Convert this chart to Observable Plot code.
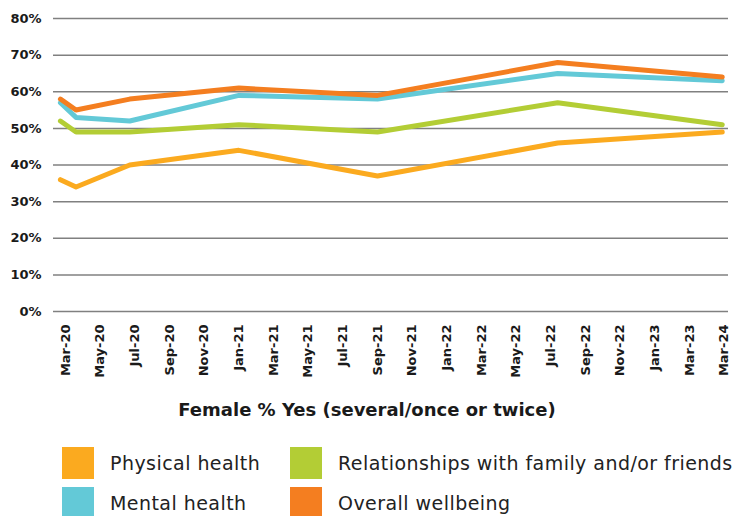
<!DOCTYPE html>
<html>
<head>
<meta charset="utf-8">
<script src="https://cdn.jsdelivr.net/npm/d3@7"></script>
<script src="https://cdn.jsdelivr.net/npm/@observablehq/plot@0.6"></script>
<style>
  html, body { margin: 0; padding: 0; background: #fff; }
  body { width: 734px; height: 516px; overflow: hidden; font-family: "DejaVu Sans", sans-serif; color: #1a1a1a; }
  #chart svg { display: block; }
  #title { text-align: center; font-weight: bold; font-size: 18px; line-height: 20px; padding-top: 15px; box-sizing: border-box; height: 50px; }
  #legend { position: relative; height: 131px; }
  .item { position: absolute; display: flex; align-items: center; font-size: 19px; letter-spacing: 0.45px; color: #222; }
  .sw { width: 32px; height: 32px; margin-right: 16px; flex: none; }
</style>
</head>
<body>
<div id="chart"></div>
<div id="title">Female % Yes (several/once or twice)</div>
<div id="legend"></div>
<script>
// Axis category labels (one slot each, evenly spaced)
const xLabels = ["Mar-20","May-20","Jul-20","Sep-20","Nov-20","Jan-21","Mar-21","May-21","Jul-21","Sep-21",
                 "Nov-21","Jan-22","Mar-22","May-22","Jul-22","Sep-22","Nov-22","Jan-23","Mar-23","Mar-24"];
// Position of each survey wave along the label slots
const wavePos = [-0.15, 0.3, 1.85, 5.0, 9.0, 14.2, 18.95];

const physical      = [36, 34, 40, 44, 37, 46, 49];
const mental        = [57, 53, 52, 59, 58, 65, 63];
const relationships = [52, 49, 49, 51, 49, 57, 51];
const overall       = [58, 55, 58, 61, 59, 68, 64];

const seriesNames  = ["Physical health", "Mental health", "Relationships with family and/or friends", "Overall wellbeing"];
const seriesValues = [physical, mental, relationships, overall];
const seriesColors = ["#FBAA1F", "#63C9D7", "#B3CD35", "#F47E20"];
const yTicks = [0, 10, 20, 30, 40, 50, 60, 70, 80];

const rows = [];
seriesNames.forEach((name, s) => {
  seriesValues[s].forEach((v, i) => rows.push({series: name, pos: wavePos[i], value: v}));
});

const plot = Plot.plot({
  width: 734,
  height: 385,
  marginTop: 18,
  marginBottom: 74,
  marginLeft: 53,
  marginRight: 6,
  style: {fontFamily: "DejaVu Sans, sans-serif", color: "#1a1a1a", background: "#fff"},
  x: {type: "linear", domain: [-0.35, 19.13]},
  y: {domain: [0, 80]},
  color: {domain: seriesNames, range: seriesColors},
  marks: [
    Plot.gridY(yTicks, {stroke: "#808080", strokeOpacity: 1, strokeWidth: 1.5}),
    Plot.axisY({ticks: yTicks, tickSize: 0, tickPadding: 12, tickFormat: d => d + "%", fontSize: 13, fontWeight: "bold", label: null}),
    Plot.axisX({ticks: d3.range(xLabels.length), tickFormat: i => xLabels[i], tickRotate: -90, tickSize: 0, tickPadding: 13, fontSize: 13, fontWeight: "bold", label: null}),
    Plot.line(rows, {x: "pos", y: "value", z: "series", stroke: "series", strokeWidth: 5, strokeLinecap: "round", strokeLinejoin: "round", curve: "linear"})
  ]
});
document.getElementById("chart").appendChild(plot);

// Legend
const legendPos = [
  {left: 62, top: 12}, {left: 62, top: 52}, {left: 290, top: 12}, {left: 290, top: 52}
];
const legend = document.getElementById("legend");
seriesNames.forEach((name, i) => {
  const it = document.createElement("div");
  it.className = "item";
  it.style.left = legendPos[i].left + "px";
  it.style.top = legendPos[i].top + "px";
  const sw = document.createElement("div");
  sw.className = "sw";
  sw.style.background = seriesColors[i];
  const tx = document.createElement("span");
  tx.textContent = name;
  it.appendChild(sw); it.appendChild(tx);
  legend.appendChild(it);
});
</script>
</body>
</html>
